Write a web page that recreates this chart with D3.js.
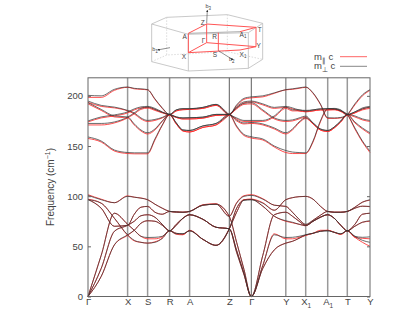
<!DOCTYPE html>
<html><head><meta charset="utf-8">
<script src="https://cdn.jsdelivr.net/npm/d3@7"></script>
<style>html,body{margin:0;padding:0;background:#fff}svg{display:block}text{font-family:"Liberation Sans",sans-serif;fill:#444}</style>
</head><body><div id="c"></div>
<script>
const pathLabels=["Γ","X","S","R","A","Z","Γ","Y","X1","A1","T","Y"];
const pathPositions=[0,39.6,59.6,81.6,101.6,141.3,163.3,197.8,217.7,239.7,259.3,282];
const freqTicks=[0,50,100,150,200];
// each band: 34 values, four per segment sharing the node values
const blackHigh=[
[200.5,200,206.5,208.8,207.5,207,206.2,197,188,181.5,186,187.2,187.2,188.5,191.5,181.5,191,197.5,199,200,203,206.2,207,208,208.8,203,192,178.2,178,178.5,181.5,192,201,206.2],
[194.8,190.5,188.8,185.5,183,178,175.5,176.5,178.5,181.5,179,178,178.2,178.8,181.5,181.5,189,194,194.8,192,188.5,189.5,188,186,185.5,186,187,187.2,187.5,186,181.5,184,188,189.5],
[193.2,186.5,180,179,172,166,163.2,167,175,181.5,173,166,165.5,170,172.5,181.5,188,192.5,193.2,186,178,175.5,176,178,179.8,173,167,165.5,169,175,181.5,174,168,163.2],
[175,179,181,184,187,189,189.5,187.5,184,181.5,186,187.2,187.2,188.5,191.5,181.5,178,175.5,175.5,175.5,180,188.8,186,186,184.8,186,187,187.2,187,185.5,181.5,184,187,188.8],
[172.5,172.5,174,178.8,183,187.5,188.8,186.5,183.5,181.5,179,178,178.2,178.8,181.5,181.5,176,173,173.5,172,168,163.2,167,174,178.2,173,167,165.5,169,175,181.5,180,177,175.5],
[159,155,146,143.5,143.2,143.2,143.2,157,171,181.5,173,166,165.5,170,172.5,181.5,170,161.5,159.2,157,150,145.5,144,143.5,143.2,155,175,187.2,187,185,181.5,168,155,145]
];
const redHigh=[
[198.5,198.5,205.5,208.5,207,206.5,206,196.5,187.5,181,185,186.2,186.5,187.5,190.5,181,190,196.5,198,199,202.5,206,206.5,207.5,208.5,202.5,191.5,177.5,177.5,178,181,191,200,205.5],
[193.5,189.5,188,185,182,177,174.5,175.5,178,181,178.5,177,177,177.8,180.5,181,188,193,194,191,187.5,188.5,187,185,184.5,185,186,186,186.5,185,181,183,187,188.5],
[192,185.5,179,178,171,165,162,166,174.5,181,172,165,164,168.5,171,181,187,191.5,192,185,177,174.5,175,177,178.8,172,166,164.5,168,174,181,173,167,162],
[174,178,180,183,186,188,188.5,186.5,183.5,181,185,186.2,186.5,187.5,190.5,181,177,174.5,174.5,174.5,179,187.5,185,185,184,185,186,186,186,184.5,181,183,186,187.5],
[171,171,173,178,182,186.5,187.8,185.5,183,181,178.5,177,177,177.8,180.5,181,175,172,172.5,171,167,162,166,173,177.5,172,166,164.5,168,174,181,179,176,174.5],
[157.5,154,145,142.5,142.2,142.2,142.2,156,170.5,181,172,165,164,168.5,171,181,169,160.5,158,156,149,143.5,142.5,142.5,142.5,154,174,186.5,186.5,184.5,181,167,154,143.5]
];
const blackLow=[
[100.8,96.5,93.5,99.8,99,98,96.5,92,88,84.8,84,84,84.8,91,92,79.8,93,99.8,100.8,97,91,89.8,84,77,72,76,81,84.8,84,84,84.8,88,90,89.8],
[96.5,93,78,61.5,56,54,53.2,54,58,65.5,63,62.5,65.5,57,51,67.5,84,96,96.5,93,86,96.5,98.5,99.5,99.8,97,90,84.8,84,84,84.8,89,94,96.5],
[96.5,88,70,71,82,89,89.8,84,82,84.8,84.5,84,84.8,91,92,79.8,54,27,0,41,81.5,84,80,75,70.8,75,79,81.5,78,71,65.5,70,74,75.5],
[0,41,83,72,66,60,58.8,59,60,65.5,62.5,62.5,65.5,57,51,67.5,88,96,96.5,90,80,75.5,74,72,70.8,75,79,81.5,78,71,65.5,72,82,83],
[0,28,65,71,75,80.5,81.5,79,72,65.5,71,78,81.5,77,69,67.5,46,23,0,31,61.5,58.8,59,60,61.5,63,65,65.5,64,62.5,65.5,60,59,59.5],
[0,20,51.5,61.5,66,73,75.5,75,71,65.5,72,78,81.5,77,69,67.5,44,22,0,28,46.5,53.2,55,58,61.5,63,65,65.5,64,62.5,65.5,60,56,54]
];
const redLow=[
[101.5,97,93.5,100.3,99,98.2,96.5,92,88,84.8,84,84,84.8,91.5,92.5,80.3,93.5,100.5,101.5,97.5,91,89.8,84,77,71.5,76,81,84.8,84,84,84.8,88,90,89.5],
[97,93,78,61,55.5,54,53.2,54.5,58,65.5,63,62,65.5,57,51,67.5,84,96.5,97,93.5,86,96.5,98.5,99.5,99.8,97,90,84.8,84,84,84.8,89,94,96],
[97,88,70,71,82,89,89.8,84,82,84.8,84.5,84,84.8,91,92,79.8,54,27,0,41,81.5,84,80,75,70.8,75,79,81.5,78,71,65.5,70,74,75],
[0,41,83,72,66,60,57.5,57.5,59.5,65.5,62,61.5,66,57,51,67.5,88,96.5,97,90,80,75,73.5,72,70.5,75,79,81.5,78,71,65.5,72,82,83],
[0,28,65,71,75,80.5,81.5,79,72,65.5,71,78,81.5,77,69,67.5,46,23,0,31,62.5,57.5,57.5,59,61,63,66,66,64,62,65.5,59,58,57.5],
[0,20,51.5,61,66,73,75.5,75,71,65.5,72,78,81.5,77,69,67.5,44,22,0,28,46.5,53.2,55,58,61,63,65,66,64,62,65.5,59,54,50]
];
const prismSolid=[[35,72],[80,52],[262,44],[368,70],[325,98],[145,103],[35,72],[35,185],[145,213],[325,205],[368,178],[368,70]];
const prismEdges=[[[145,103],[145,213]],[[325,98],[325,205]]];
const prismDotted=[[35,185],[80,165],[262,155],[368,178]];
const prismDottedEdges=[[[80,52],[80,165]],[[262,44],[262,155]]];
const zonePaths=[[[145,100],[200,72],[348,82],[300,95]],[[145,158],[200,128],[348,140],[300,150]],[[200,72],[200,128]],[[348,82],[348,140]],[[145,100],[145,158]],[[235,98],[235,152]],[[145,158],[300,150]]];
const zoneGray=[[145,100],[300,95]];
const zoneLabels=[["Z",188,76],["A",134,116],["A1",309,110],["T",359,96],["Γ",191,128],["R",224,116],["X",132,176],["S",225,172],["X1",309,170],["Y",356,144],["b1",45,154],["b2",275,184],["b3",205,24]];
const zoneArrows=[[[200,70],[202,30]],[[90,143],[52,150]],[[235,152],[280,180]]];
const legendItems=[{main:"m",sub:"∥",color:"#f66"},{main:"m",sub:"⊥",color:"#888"}];

const width=415,height=312;
const svg=d3.select("#c").append("svg").attr("width",width).attr("height",height);
const x=d3.scaleLinear().domain([0,282]).range([88,370]);
const y=d3.scaleLinear().domain([0,218]).range([296.5,77.8]);

// k positions: node plus two interior points per segment
const kGrid=[];
pathPositions.forEach((p,i)=>{
  kGrid.push(p);
  if(i<pathPositions.length-1){const q=pathPositions[i+1];kGrid.push(p+(q-p)/3,p+2*(q-p)/3);}
});
const line=d3.line().x((d,i)=>x(kGrid[i])).y(d=>y(d)).curve(d3.curveMonotoneX);

// vertical path lines
svg.append("g").selectAll("line").data(pathPositions.slice(1,-1)).join("line")
  .attr("x1",d=>x(d)).attr("x2",d=>x(d)).attr("y1",y(218)).attr("y2",y(0))
  .attr("stroke",(d,i)=>(i===4||i===5)?"#333":"#999")
  .attr("stroke-width",(d,i)=>(i===4||i===5)?0.8:1.5);

// bands
const bands=svg.append("g").attr("fill","none");
bands.selectAll(".r").data(redHigh.concat(redLow)).join("path").attr("class","r")
  .attr("d",line).attr("stroke","#f22").attr("stroke-width",1).attr("stroke-opacity",.8);
bands.selectAll(".k").data(blackHigh.concat(blackLow)).join("path").attr("class","k")
  .attr("d",line).attr("stroke","#333").attr("stroke-width",.8).attr("stroke-opacity",.9);

// frame
svg.append("rect").attr("x",x(0)).attr("y",y(218)).attr("width",x(282)-x(0)).attr("height",y(0)-y(218))
  .attr("fill","none").attr("stroke","#666").attr("stroke-width",1);

// axes
const yAxis=svg.append("g").attr("transform",`translate(${x(0)},0)`)
  .call(d3.axisLeft(y).tickValues(freqTicks).tickSize(-3).tickPadding(5));
const yAxisR=svg.append("g").attr("transform",`translate(${x(282)},0)`)
  .call(d3.axisRight(y).tickValues(freqTicks).tickSize(-3).tickFormat(""));
const xAxis=svg.append("g").attr("transform",`translate(0,${y(0)})`)
  .call(d3.axisBottom(x).tickValues(pathPositions).tickSize(0).tickPadding(2).tickFormat(""));
[yAxis,yAxisR,xAxis].forEach(a=>{a.select(".domain").remove();a.selectAll("line").attr("stroke","#666");});
yAxis.selectAll("text").attr("font-size",9.5);
xAxis.selectAll("text").each(function(d,i){
  const t=d3.select(this).attr("font-size",9.5).attr("dy","0.71em");
  const s=pathLabels[i];
  if(s.length>1){t.append("tspan").text(s[0]);t.append("tspan").text(s[1]).attr("font-size",6.5).attr("dy",2.5);}
  else t.text(s);
});

svg.append("text").attr("transform","translate(53.5,187) rotate(-90)").attr("text-anchor","middle").attr("font-size",10)
  .call(t=>{t.append("tspan").text("Frequency (cm");t.append("tspan").text("−1").attr("font-size",7).attr("dy",-3.5);t.append("tspan").text(")").attr("dy",3.5);});

// legend
const lg=svg.append("g").selectAll("g").data(legendItems).join("g").attr("transform",(d,i)=>`translate(0,${56.7+i*9.6})`);
lg.append("line").attr("x1",340).attr("x2",367).attr("stroke",d=>d.color).attr("stroke-width",1);
const lt=lg.append("text").attr("x",314).attr("y",3).attr("font-size",9.5);
lt.append("tspan").text(d=>d.main);
lt.append("tspan").text(d=>d.sub).attr("font-size",7).attr("dy",3);
lt.append("tspan").text(" c").attr("dy",-3);

// inset Brillouin zone (coordinates in a 3x sketch space)
const ix=d3.scaleLinear().domain([0,450]).range([140,290]);
const iy=d3.scaleLinear().domain([0,225]).range([0,75]);
const il=d3.line().x(d=>ix(d[0])).y(d=>iy(d[1]));
const inset=svg.append("g").attr("fill","none");
inset.append("path").attr("d",il(prismSolid)).attr("stroke","#bbb").attr("stroke-width",.8);
prismEdges.forEach(e=>inset.append("path").attr("d",il(e)).attr("stroke","#bbb").attr("stroke-width",.8));
inset.append("path").attr("d",il(prismDotted)).attr("stroke","#ccc").attr("stroke-width",.7).attr("stroke-dasharray","1.5,1.5");
prismDottedEdges.forEach(e=>inset.append("path").attr("d",il(e)).attr("stroke","#ccc").attr("stroke-width",.7).attr("stroke-dasharray","1.5,1.5"));
inset.append("path").attr("d",il(zoneGray)).attr("stroke","#999").attr("stroke-width",.8);
zonePaths.forEach(e=>inset.append("path").attr("d",il(e)).attr("stroke","#f55").attr("stroke-width",1));
const defs=svg.append("defs");
defs.append("marker").attr("id","ah").attr("markerWidth",5).attr("markerHeight",5).attr("refX",4).attr("refY",2).attr("orient","auto")
  .append("path").attr("d","M0,0L4,2L0,4Z").attr("fill","#222");
zoneArrows.forEach(e=>inset.append("path").attr("d",il(e)).attr("stroke","#444").attr("stroke-width",.6).attr("marker-end","url(#ah)"));
svg.append("g").selectAll("text").data(zoneLabels).join("text")
  .attr("x",d=>ix(d[1])).attr("y",d=>iy(d[2])).attr("text-anchor","middle").attr("font-size",d=>d[0][0]==="b"?5.5:6.5)
  .each(function(d){const t=d3.select(this);
    if(d[0].length>1){t.append("tspan").text(d[0][0]);t.append("tspan").text(d[0][1]).attr("font-size",4.5).attr("dy",1.5);}
    else t.text(d[0]);});
</script></body></html>
